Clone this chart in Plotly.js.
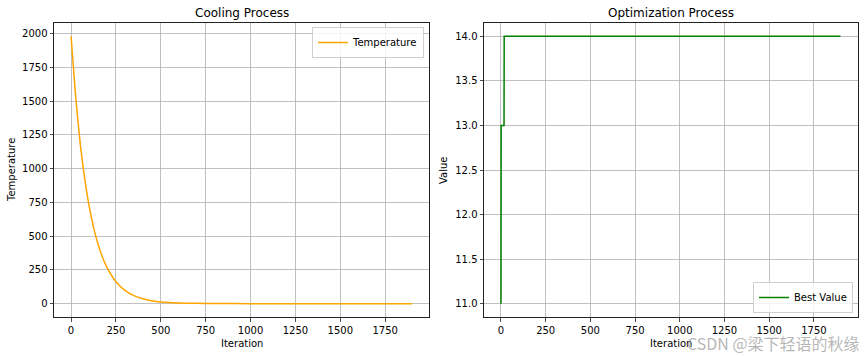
<!DOCTYPE html>
<html>
<head>
<meta charset="utf-8">
<script src="https://cdn.plot.ly/plotly-3.0.1.min.js"></script>
<style>html,body{margin:0;padding:0;background:#fff}#chart{width:865px;height:356px}</style>
</head>
<body>
<div id="chart"></div>
<script>
// Cooling curve: values
const tempIter = [0, 25, 50, 75, 100, 125, 150, 175, 200, 250, 300, 350, 400, 450, 500, 600, 700, 800, 1000, 1200, 1500, 1899];
const tempVals = [1980, 1545, 1200, 935, 728, 567, 442, 344, 268, 162, 98, 59, 36, 22, 13, 5, 2, 1, 0, 0, 0, 0];
// Best value steps
const bestIter = [0, 1, 17, 18, 1899];
const bestVals = [11, 13, 13, 14, 14];
const xTicks = [0, 250, 500, 750, 1000, 1250, 1500, 1750];
const tempTicks = [0, 250, 500, 750, 1000, 1250, 1500, 1750, 2000];
const valueTicks = [11.0, 11.5, 12.0, 12.5, 13.0, 13.5, 14.0];
const valueTickText = ['11.0', '11.5', '12.0', '12.5', '13.0', '13.5', '14.0'];

const font = {family: 'DejaVu Sans', size: 10, color: '#000'};
const axisBase = {
  showline: true, mirror: true, linecolor: '#222', linewidth: 1,
  ticks: 'outside', ticklen: 3.5, tickwidth: 0.8, tickcolor: '#222',
  showgrid: true, gridcolor: '#b0b0b0', gridwidth: 0.8, zeroline: false,
  tickfont: font
};

const traces = [
  {x: tempIter, y: tempVals, type: 'scatter', mode: 'lines', name: 'Temperature',
   line: {color: 'orange', width: 1.5, shape: 'spline', smoothing: 0.6},
   xaxis: 'x', yaxis: 'y', legend: 'legend'},
  {x: bestIter, y: bestVals, type: 'scatter', mode: 'lines', name: 'Best Value',
   line: {color: 'green', width: 1.5},
   xaxis: 'x2', yaxis: 'y2', legend: 'legend2'}
];

const layout = {
  width: 865, height: 356,
  margin: {l: 0, r: 0, t: 0, b: 0},
  paper_bgcolor: '#fff', plot_bgcolor: '#fff',
  font: font,
  xaxis: Object.assign({}, axisBase, {domain: [54/865, 429/865], range: [-95, 1994], tickvals: xTicks, anchor: 'y'}),
  yaxis: Object.assign({}, axisBase, {domain: [1-317/356, 1-23/356], range: [-99, 2079], tickvals: tempTicks, anchor: 'x'}),
  xaxis2: Object.assign({}, axisBase, {domain: [484/865, 857.5/865], range: [-95, 1994], tickvals: xTicks, anchor: 'y2'}),
  yaxis2: Object.assign({}, axisBase, {domain: [1-317/356, 1-23/356], range: [10.85, 14.15], tickvals: valueTicks, ticktext: valueTickText, anchor: 'x2'}),
  showlegend: true,
  legend: {x: 424/865, y: 1-27/356, xanchor: 'right', yanchor: 'top', bgcolor: 'rgba(255,255,255,0.8)',
           bordercolor: '#d0d0d0', borderwidth: 1, font: font, itemwidth: 30, tracegroupgap: 0},
  legend2: {x: 853/865, y: 1-313/356, xanchor: 'right', yanchor: 'bottom', bgcolor: 'rgba(255,255,255,0.8)',
           bordercolor: '#d0d0d0', borderwidth: 1, font: font, itemwidth: 30},
  annotations: [
    {text: 'Cooling Process', x: 241.5/865, y: 1-13/356, xref: 'paper', yref: 'paper', showarrow: false, font: {family: 'DejaVu Sans', size: 12, color: '#000'}, xanchor: 'center', yanchor: 'middle'},
    {text: 'Optimization Process', x: 671/865, y: 1-13/356, xref: 'paper', yref: 'paper', showarrow: false, font: {family: 'DejaVu Sans', size: 12, color: '#000'}, xanchor: 'center', yanchor: 'middle'},
    {text: 'Iteration', x: 241.5/865, y: 1-343/356, xref: 'paper', yref: 'paper', showarrow: false, font: font, xanchor: 'center', yanchor: 'middle'},
    {text: 'Iteration', x: 671/865, y: 1-343/356, xref: 'paper', yref: 'paper', showarrow: false, font: font, xanchor: 'center', yanchor: 'middle'},
    {text: 'Temperature', x: 12/865, y: 1-170/356, xref: 'paper', yref: 'paper', showarrow: false, font: font, textangle: -90, xanchor: 'center', yanchor: 'middle'},
    {text: 'Value', x: 444/865, y: 1-170/356, xref: 'paper', yref: 'paper', showarrow: false, font: font, textangle: -90, xanchor: 'center', yanchor: 'middle'},
    {text: 'CSDN @梁下轻语的秋缘', x: 862/865, y: 1-343/356, xref: 'paper', yref: 'paper', showarrow: false, font: {family: 'Noto Sans CJK SC', size: 16, color: 'rgba(150,150,150,0.7)'}, xanchor: 'right', yanchor: 'middle'}
  ]
};

Plotly.newPlot('chart', traces, layout, {displayModeBar: false, staticPlot: true});
</script>
</body>
</html>
